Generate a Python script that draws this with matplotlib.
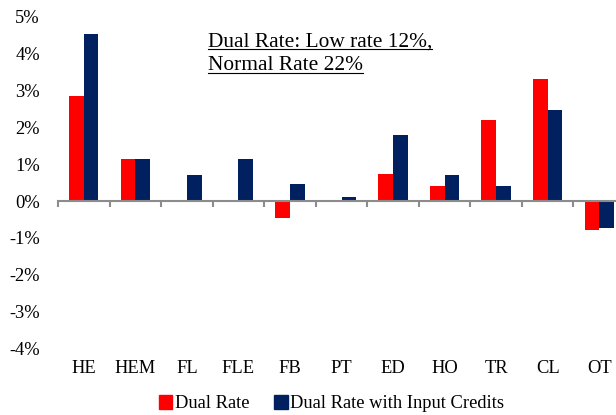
import numpy as np
import matplotlib
matplotlib.use("Agg")
import matplotlib.pyplot as plt
from matplotlib.patches import Patch
from matplotlib.ticker import FuncFormatter
import matplotlib.transforms as mtransforms

plt.rcParams['font.family'] = ['Liberation Serif', 'DejaVu Serif']

# --- data ---
categories = ['HE', 'HEM', 'FL', 'FLE', 'FB', 'PT', 'ED', 'HO', 'TR', 'CL', 'OT']
dual_rate = [2.84, 1.13, 0.0, 0.0, -0.45, 0.0, 0.74, 0.41, 2.19, 3.30, -0.79]
dual_credit = [4.52, 1.13, 0.71, 1.13, 0.47, 0.12, 1.78, 0.71, 0.41, 2.46, -0.73]
series_names = ['Dual Rate', 'Dual Rate with Input Credits']
note_lines = ['Dual Rate: Low rate 12%,', 'Normal Rate 22%']

RED = '#FF0000'
NAVY = '#002060'
FS = 13.3

fig = plt.figure(figsize=(6.16, 4.15), dpi=100)
ax = fig.add_axes([0.0942, 0.160, 0.9204, 0.800])

x = np.arange(len(categories))
w = 0.285
ax.bar(x - w / 2, dual_rate, width=w, color=RED, edgecolor='none')
ax.bar(x + w / 2, dual_credit, width=w, color=NAVY, edgecolor='none')

ax.set_xlim(-0.5, len(categories) - 0.5)
ax.set_ylim(-4, 5)
ax.set_yticks(range(-4, 6))
ax.yaxis.set_major_formatter(FuncFormatter(lambda v, p: f'{int(v)}%'))
ax.tick_params(axis='y', length=0, labelsize=FS, pad=13)

for s in ['left', 'right', 'top']:
    ax.spines[s].set_visible(False)
ax.spines['bottom'].set_position(('data', 0))
ax.spines['bottom'].set_color('#8c8c8c')
ax.spines['bottom'].set_linewidth(1.5)
ax.set_xticks(np.arange(len(categories) + 1) - 0.5)
ax.set_xticklabels([])
ax.tick_params(axis='x', direction='out', length=4, width=1.5, color='#8c8c8c')

# category labels sit below the plot area
trans = mtransforms.blended_transform_factory(ax.transData, ax.transAxes)
for i, c in enumerate(categories):
    ax.text(i, -0.06, c, transform=trans, ha='center', va='center', fontsize=FS)

# note text with underline
notes = []
for j, line in enumerate(note_lines):
    t = fig.text(208 / 616, 1 - (42 + 24 * j) / 415, line, ha='left', va='center', fontsize=15.4)
    notes.append(t)
fig.canvas.draw()
r = fig.canvas.get_renderer()
for t in notes:
    bb = t.get_window_extent(r).transformed(fig.transFigure.inverted())
    fig.add_artist(plt.Line2D([bb.x0, bb.x1], [bb.y0 + 0.005, bb.y0 + 0.005],
                              transform=fig.transFigure, color='black', lw=0.8))

handles = [Patch(color=RED), Patch(color=NAVY)]
fig.legend(handles, series_names, loc='center', bbox_to_anchor=(0.538, 0.027), ncol=2,
           frameon=False, fontsize=FS, handlelength=0.75, handleheight=0.75,
           handletextpad=0.15, columnspacing=1.3)

fig.savefig('out.png', dpi=100)
